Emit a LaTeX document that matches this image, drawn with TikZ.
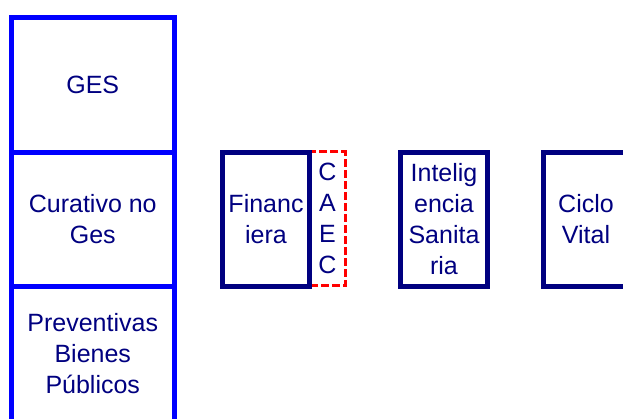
\documentclass[tikz,border=0pt]{standalone}
\usepackage{fontspec}
\setmainfont{Liberation Sans}
\definecolor{boxblue}{RGB}{0,0,255}
\definecolor{navyc}{RGB}{0,0,128}
\definecolor{redc}{RGB}{255,0,0}
\tikzset{
  lab/.style={text=navyc, font=\fontsize{25}{31}\selectfont, align=center, inner sep=0pt},
  colbox/.style={lab, draw=boxblue, line width=5pt, rectangle},
  navybox/.style={lab, draw=navyc, line width=5pt, rectangle},
  dashbox/.style={lab, draw=redc, line width=3pt, dash pattern=on 8pt off 3pt, rectangle},
}
\begin{document}
\begin{tikzpicture}[x=1pt,y=-1pt]
\useasboundingbox (0,0) rectangle (623,418);
\clip (0,0) rectangle (623,418);
\fill[white] (0,0) rectangle (623,418);
% left column
\node[colbox, minimum width=162.5pt, minimum height=135pt] (ges) at (92.75,85) {GES};
\node[colbox, minimum width=162.5pt, minimum height=134pt] (cur) at (92.75,219.5) {Curativo no\\Ges};
\node[colbox, minimum width=162.5pt, minimum height=134.5pt] (prev) at (92.75,353.75) {Preventivas\\Bienes\\Públicos};
% CAEC dashed
\node[dashbox, minimum width=35pt, minimum height=134pt] (caec) at (327.5,218.5) {C\\A\\E\\C};
% Financiera
\node[navybox, minimum width=87pt, minimum height=134.5pt] (fin) at (266,219.25) {Financ\\iera};
% Inteligencia
\node[navybox, minimum width=87pt, minimum height=134pt] (intel) at (444,219.5) {Intelig\\encia\\Sanita\\ria};
% Ciclo Vital
\node[navybox, minimum width=85pt, minimum height=134pt] (ciclo) at (586,219.5) {Ciclo\\Vital};
\end{tikzpicture}
\end{document}
